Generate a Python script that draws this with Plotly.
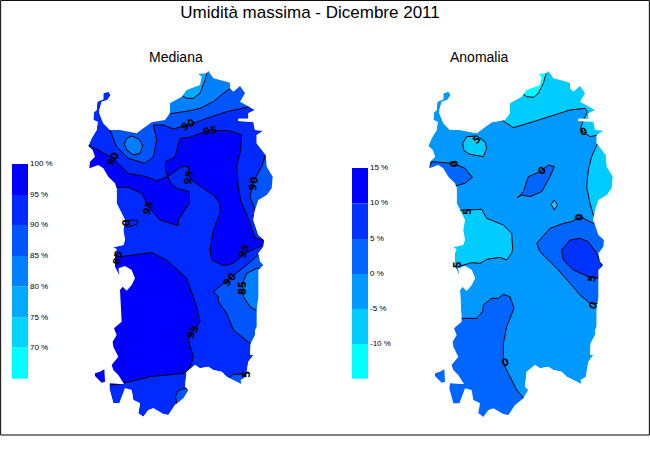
import plotly.graph_objects as go

# map grid: 3 units per screen pixel, same grid for both panels
coast_x = [625,640,660,690,690,700,720,735,720,745,765,745,745,715,715,750,760,765,790,770,770,797,800,818,815,800,775,765,760,775,792,
           790,775,780,790,775,775,770,770,765,765,752,750,760,745,740,738,722,724,700,680,665,640,625,600,585,560,555,565,550,525,505,490,460,445,430,415,420,400,395,375,358,340,328,330,360,372,355,340,335,355,340,338,350,342,365,360,368,380,395,405,395,375,355,358,345,345,350,340,370,375,
           370,375,350,350,345,325,310,295,268,270,285,278,265,275,290,293,280,282,290,292,310,310,325,332,322,305,298,298,310,330,360,410,430,455,495,510,510,545,560,600,605,595,620,625]
coast_y = [33,55,60,68,85,95,78,100,125,138,150,160,176,176,183,185,185,210,212,225,250,285,320,350,385,405,420,450,480,525,540,
           560,580,605,615,630,710,750,800,810,825,850,885,885,905,935,950,960,972,960,950,935,930,920,925,915,935,980,990,1015,1035,1065,1062,1045,1050,1070,1060,1030,1020,990,985,1030,1030,985,970,972,972,945,930,915,890,860,845,825,805,785,690,680,692,675,655,630,618,625,645,620,580,568,562,555,540,
           510,480,430,385,370,350,325,315,325,305,290,270,258,235,210,185,180,157,150,125,118,100,95,105,120,125,150,160,190,210,210,220,205,187,180,160,130,110,90,75,50,42,40,33]
islet_x = [285,300,313,315,305,285]
islet_y = [940,935,928,965,968,948]
sea_x = [250,250,860,860,250]
sea_y = [5,1100,1100,5,5]

c100 = "rgb(0,0,255)"
c95 = "rgb(0,42,255)"
c90 = "rgb(0,85,255)"
c85 = "rgb(0,128,255)"
c80 = "rgb(0,170,255)"
c75 = "rgb(0,212,255)"
c70 = "rgb(0,255,255)"

# Mediana bands, painted in this order over the base colour
med_base = c95
med_bands = [
    (c90, [750,680,620,580,520,490,460,470,460,435,385,350,330,340,345,760,760],
          [140,155,175,190,207,195,195,240,290,310,295,260,210,200,20,20,130]),
    (c85, [692,670,640,600,570,520,500,480,480,692],
          [85,100,125,145,152,160,163,150,20,20]),
    (c80, [625,615,600,580,560,543,530,530],
          [20,60,100,115,115,105,90,20]),
    (c85, [395,418,428,420,400,380,373,380],
          [228,238,258,280,285,270,252,235]),
    (c90, [797,785,760,750,765,775,850,850],
          [285,320,365,410,450,460,460,285]),
    (c100, [540,570,600,630,690,725,722,710,715,722,745,765,792,790,735,700,670,635,630,635,640,660,660,640,580,565,565,545,503,497,497,525],
           [235,232,220,212,212,225,270,320,380,420,475,535,540,555,580,610,617,600,570,540,510,460,430,405,365,345,320,320,350,330,305,290]),
    (c100, [265,340,385,440,470,503,510,530,568,568,535,535,480,445,425,385,348,300,260],
           [255,295,340,350,362,350,365,385,395,430,480,497,480,440,400,382,382,382,340]),
    (c95, [375,412,412,380],
          [482,480,492,502]),
    (c90, [780,740,690,660,640,655,655,680,700,750,830,830],
          [580,615,655,680,695,710,725,760,810,850,850,580]),
    (c85, [770,740,728,730,750,770,830,830],
          [625,640,670,710,740,752,752,625]),
    (c90, [688,700,735,738,740,690],
          [952,943,943,950,1000,1000]),
    (c90, [575,555,535,527,530,530,600,600],
          [985,985,992,1010,1030,1060,1060,985]),
    (c100, [345,455,500,540,560,590,600,565,580,570,550,450,370,325,270,270],
           [592,578,600,638,655,740,785,840,890,925,940,950,970,977,977,592]),
]
med_label_x = [340,565,630,565,445,760,378,352,733,688,728,580,737]
med_label_y = [296,193,210,352,443,370,490,592,572,657,685,815,942]
med_label_t = ["90","90","95","95","95","90","0","85","95","90","85","95","5"]
med_label_a = [-60,-30,-10,-80,-70,-80,-90,-80,-70,-50,-90,-60,-90]

# Anomalia bands
ano_base = "rgb(0,153,255)"
a15 = "rgb(0,0,255)"
a10 = "rgb(0,51,255)"
a5 = "rgb(0,102,255)"
a0 = "rgb(0,153,255)"
am5 = "rgb(0,204,255)"
am10 = "rgb(0,255,255)"
ano_bands = [
    (am5, [485,520,580,640,690,735,742,730,722,730,750,775,775,755,745,740,750,760,850,850,480,480],
          [180,203,185,165,150,145,155,180,205,215,230,225,245,290,330,380,430,465,465,20,20,170]),
    (am10, [620,610,595,580,560,548,540,540],
           [35,70,100,112,110,100,95,20]),
    (am5, [368,380,410,435,440,430,390,372],
          [250,230,228,245,265,290,283,272]),
    (a5, [275,340,375,397,375,348,300,260],
         [305,310,325,352,370,377,380,340]),
    (a5, [532,550,565,600,625,643,630,605,570,545],
         [413,395,350,335,315,320,350,395,410,405]),
    (am5, [643,653,643,633],
          [420,435,450,433]),
    (am5, [380,425,440,490,515,518,515,500,480,440,420,395,370,352,300,300],
          [450,448,475,495,520,565,580,600,592,598,610,608,615,620,620,455]),
    (a5, [590,600,625,655,690,720,750,830,830,800,760,720,695,670,630],
         [550,575,600,630,670,705,730,730,560,490,490,470,485,490,505]),
    (a10, [665,670,700,745,775,785,770,745,720,690],
          [570,600,630,650,655,615,580,545,535,540]),
    (a5, [370,410,428,430,455,475,490,510,522,500,490,490,510,530,552,540,270,270],
         [775,775,755,735,715,715,703,710,745,800,850,910,950,990,1015,1070,1070,775]),
]
ano_label_x = [342,410,605,730,382,718,352,755,758,495]
ano_label_y = [313,238,330,213,455,472,615,655,735,908]
ano_label_t = ["0","5","0","0","5","0","5","5","0","0"]
ano_label_a = [-90,-40,-40,-20,-90,-90,-90,-80,-60,-20]

# legends
med_tops = [312,405,495,588,680,773,863]
med_bottom = 956
med_ticks = ["100 %","95 %","90 %","85 %","80 %","75 %","70 %"]
med_colors = [c100,c95,c90,c85,c80,c75,c70]
ano_tops = [324,430,537,642,747,852]
ano_bottom = 956
ano_ticks = ["15 %","10 %","5 %","0 %","-5 %","-10 %"]
ano_colors = [a15,a10,a5,a0,am5,am10]


def closed(vals):
    return list(vals) + [vals[0]]


def add_map(fig, base, bands, lab_x, lab_y, lab_t, lab_a, tops, bottom, ticks, colors, xa, ya):
    heights = [b - t for t, b in zip(tops, tops[1:] + [bottom])]
    fig.add_trace(go.Bar(x=[60] * len(tops), y=heights, base=tops, width=48, marker=dict(color=colors, line_width=0),
                         xaxis=xa, yaxis=ya))
    fig.add_trace(go.Scatter(x=[90] * len(tops), y=tops, text=ticks, mode="text", textposition="middle right",
                             textfont=dict(family="Liberation Sans", size=8, color="black"), xaxis=xa, yaxis=ya))
    # island in the base colour
    fig.add_trace(go.Scatter(x=coast_x + [None] + islet_x, y=coast_y + [None] + islet_y, mode="lines", fill="toself",
                             fillcolor=base, line=dict(width=0), xaxis=xa, yaxis=ya))
    for col, bx, by in bands:
        fig.add_trace(go.Scatter(x=closed(bx), y=closed(by), mode="lines", fill="toself", fillcolor=col,
                                 line=dict(color="black", width=1), xaxis=xa, yaxis=ya))
    # everything outside the coast goes back to white
    fig.add_trace(go.Scatter(x=sea_x + [None] + coast_x + [None] + islet_x, y=sea_y + [None] + coast_y + [None] + islet_y,
                             mode="lines", fill="toself", fillcolor="white", line=dict(width=0), xaxis=xa, yaxis=ya))
    for lx, ly, lt, la in zip(lab_x, lab_y, lab_t, lab_a):
        fig.add_annotation(x=lx, y=ly, text=f"<b>{lt}</b>", textangle=la, showarrow=False, xref=xa, yref=ya,
                           font=dict(family="DejaVu Sans", size=10, color="black"))


fig = go.Figure()
add_map(fig, med_base, med_bands, med_label_x, med_label_y, med_label_t, med_label_a, med_tops, med_bottom, med_ticks, med_colors, "x", "y")
add_map(fig, ano_base, ano_bands, ano_label_x, ano_label_y, ano_label_t, ano_label_a, ano_tops, ano_bottom, ano_ticks, ano_colors, "x2", "y2")

fig.update_layout(
    width=650, height=450, margin=dict(l=0, r=0, t=0, b=0),
    showlegend=False, barmode="overlay", paper_bgcolor="white", plot_bgcolor="white",
    title=dict(text="Umidità massima - Dicembre 2011", x=310 / 650, xanchor="center", y=1 - 12 / 450, yanchor="middle",
               font=dict(family="Liberation Sans", size=17, color="black")),
    xaxis=dict(range=[0, 1950], visible=False, fixedrange=True),
    yaxis=dict(range=[1170, -180], visible=False, fixedrange=True),
    xaxis2=dict(range=[-1020, 930], visible=False, overlaying="x", fixedrange=True),
    yaxis2=dict(range=[1170, -180], visible=False, overlaying="y", fixedrange=True),
)
fig.add_annotation(text="Mediana", x=147 / 650, y=1 - 57 / 450, xref="paper", yref="paper", showarrow=False, yanchor="middle",
                   font=dict(family="Liberation Sans", size=14, color="black"))
fig.add_annotation(text="Anomalia", x=511 / 650, y=1 - 57 / 450, xref="paper", yref="paper", showarrow=False, yanchor="middle",
                   font=dict(family="Liberation Sans", size=14, color="black"))
fig.add_shape(type="rect", xref="paper", yref="paper", x0=0.001, x1=0.999, y0=15 / 450, y1=0.999,
              line=dict(color="black", width=1))
fig.write_html("out.html", config=dict(displayModeBar=False), post_script="document.body.style.margin='0';")
